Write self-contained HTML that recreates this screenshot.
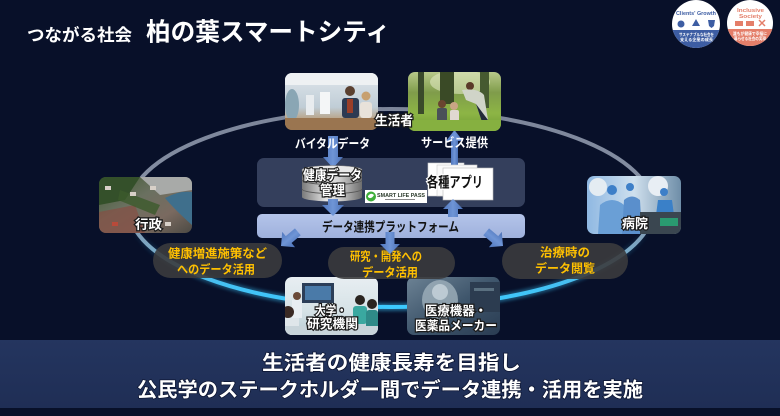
<!DOCTYPE html>
<html><head><meta charset="utf-8"><style>
html,body{margin:0;padding:0;background:#081029;}
svg{display:block;}
text{font-family:"Liberation Sans","Noto Sans CJK JP",sans-serif;font-weight:bold;}
</style></head><body>
<svg width="780" height="416" viewBox="0 0 780 416" xmlns="http://www.w3.org/2000/svg">
<defs>
  <linearGradient id="ring" x1="0" y1="109" x2="0" y2="307" gradientUnits="userSpaceOnUse">
    <stop offset="0" stop-color="#7c8599"/>
    <stop offset="0.55" stop-color="#8893a8"/>
    <stop offset="0.72" stop-color="#79aac8"/>
    <stop offset="0.88" stop-color="#45c0f2"/>
    <stop offset="1" stop-color="#3ccaff"/>
  </linearGradient>
  <linearGradient id="glowg" x1="0" y1="109" x2="0" y2="307" gradientUnits="userSpaceOnUse">
    <stop offset="0" stop-color="#3cc8ff" stop-opacity="0"/>
    <stop offset="0.6" stop-color="#3cc8ff" stop-opacity="0"/>
    <stop offset="1" stop-color="#3cc8ff" stop-opacity="1"/>
  </linearGradient>
  <filter id="glow" x="-10%" y="-10%" width="120%" height="120%"><feGaussianBlur stdDeviation="1.6"/></filter>
  <linearGradient id="banner" x1="0" y1="0" x2="0" y2="1">
    <stop offset="0" stop-color="#24355f"/><stop offset="1" stop-color="#1f2e55"/>
  </linearGradient>
  <linearGradient id="plat" x1="0" y1="0" x2="0" y2="1">
    <stop offset="0" stop-color="#b4c4ea"/><stop offset="1" stop-color="#9fb1dc"/>
  </linearGradient>
  <linearGradient id="cyl" x1="0" y1="0" x2="1" y2="0">
    <stop offset="0" stop-color="#7a7a7a"/><stop offset="0.4" stop-color="#e4e4e4"/><stop offset="0.6" stop-color="#d6d6d6"/><stop offset="1" stop-color="#6e6e6e"/>
  </linearGradient>
  <linearGradient id="arr" x1="0" y1="0" x2="1" y2="0">
    <stop offset="0" stop-color="#4f76bd"/><stop offset="0.5" stop-color="#6f95d6"/><stop offset="1" stop-color="#4a70b6"/>
  </linearGradient>
  <linearGradient id="p1" x1="0" y1="0" x2="0" y2="1">
    <stop offset="0" stop-color="#dfe6ec"/><stop offset="0.6" stop-color="#c0cdd6"/><stop offset="0.8" stop-color="#b9a58a"/><stop offset="1" stop-color="#8b6a48"/>
  </linearGradient>
  <linearGradient id="p2" x1="0" y1="0" x2="0" y2="1">
    <stop offset="0" stop-color="#b8c98a"/><stop offset="0.35" stop-color="#7f9c4a"/><stop offset="0.7" stop-color="#8db545"/><stop offset="1" stop-color="#6e9a33"/>
  </linearGradient>
  <linearGradient id="p3" x1="0" y1="0" x2="1" y2="1">
    <stop offset="0" stop-color="#3e5a30"/><stop offset="0.4" stop-color="#6a7060"/><stop offset="0.7" stop-color="#7a6a60"/><stop offset="1" stop-color="#4c4a44"/>
  </linearGradient>
  <linearGradient id="p4" x1="0" y1="0" x2="1" y2="0">
    <stop offset="0" stop-color="#8fb8e2"/><stop offset="0.5" stop-color="#cfe0ee"/><stop offset="1" stop-color="#6f8ea8"/>
  </linearGradient>
  <linearGradient id="p5" x1="0" y1="0" x2="0" y2="1">
    <stop offset="0" stop-color="#e8eef2"/><stop offset="0.6" stop-color="#d5e2e6"/><stop offset="1" stop-color="#b9ccd4"/>
  </linearGradient>
  <linearGradient id="p6" x1="0" y1="0" x2="1" y2="1">
    <stop offset="0" stop-color="#6c8294"/><stop offset="0.5" stop-color="#3f566c"/><stop offset="1" stop-color="#2a3c52"/>
  </linearGradient>
  <clipPath id="c1"><rect x="285" y="73" width="93" height="57" rx="7"/></clipPath>
  <clipPath id="c2"><rect x="408" y="72" width="93" height="59" rx="7"/></clipPath>
  <clipPath id="c3"><rect x="99" y="177" width="93" height="56" rx="7"/></clipPath>
  <clipPath id="c4"><rect x="587" y="176" width="94" height="58" rx="7"/></clipPath>
  <clipPath id="c5"><rect x="285" y="277" width="93" height="58" rx="7"/></clipPath>
  <clipPath id="c6"><rect x="407" y="277" width="93" height="58" rx="7"/></clipPath>
  <clipPath id="b1"><circle cx="696" cy="24" r="24"/></clipPath>
  <clipPath id="b2"><circle cx="750" cy="23" r="23"/></clipPath>
  <path id="ah" d="M0,0 L-10,-10 L-4.5,-10 L-4.5,-22 L4.5,-22 L4.5,-10 L10,-10 Z"/>
</defs>

<rect width="780" height="416" fill="#081029"/>

<!-- Title -->
<text x="27" y="41" font-size="17" fill="#fff" textLength="105" lengthAdjust="spacingAndGlyphs">つながる社会</text>
<text x="146" y="40.5" font-size="25" fill="#fff" textLength="244" lengthAdjust="spacingAndGlyphs">柏の葉スマートシティ</text>

<!-- Badges -->
<g clip-path="url(#b1)">
  <rect x="672" y="0" width="48" height="48" fill="#fff"/>
  <rect x="672" y="30" width="48" height="20" fill="#3d5da3"/>
  <text x="676" y="15" font-size="5.5" fill="#3d5da3" textLength="40" lengthAdjust="spacingAndGlyphs">Clients' Growth</text>
  <circle cx="681" cy="24" r="3.5" fill="#3d5da3"/>
  <path d="M696,19 L700,26 L692,26 Z" fill="#3d5da3"/>
  <path d="M708,20 L715,20 L714,26 L711.5,28 L709,26 Z" fill="#3d5da3"/>
  <text x="679" y="36" font-size="4.2" fill="#fff" textLength="35" lengthAdjust="spacingAndGlyphs">サステナブルな社会を</text>
  <text x="680" y="41" font-size="4.2" fill="#fff" textLength="33" lengthAdjust="spacingAndGlyphs">支える企業の成長</text>
</g>
<g clip-path="url(#b2)">
  <rect x="727" y="0" width="46" height="46" fill="#fff"/>
  <rect x="727" y="29" width="46" height="20" fill="#e47e69"/>
  <text x="737" y="12" font-size="5.5" fill="#e47e69" textLength="27" lengthAdjust="spacingAndGlyphs">Inclusive</text>
  <text x="739" y="18" font-size="5.5" fill="#e47e69" textLength="23" lengthAdjust="spacingAndGlyphs">Society</text>
  <rect x="735" y="21" width="8" height="5" fill="#e47e69"/>
  <rect x="746" y="21" width="8" height="5" fill="#e47e69"/>
  <path d="M759,20 L765,26 M765,20 L759,26" stroke="#e47e69" stroke-width="1.5"/>
  <text x="733" y="35" font-size="4.2" fill="#fff" textLength="34" lengthAdjust="spacingAndGlyphs">誰もが健康で幸福に</text>
  <text x="734" y="40" font-size="4.2" fill="#fff" textLength="32" lengthAdjust="spacingAndGlyphs">暮らせる社会の実現</text>
</g>

<!-- Ring -->
<ellipse cx="391" cy="208" rx="262" ry="99" fill="none" stroke="url(#glowg)" stroke-width="8" opacity="0.45" filter="url(#glow)"/>
<ellipse cx="391" cy="208" rx="262" ry="99" fill="none" stroke="url(#ring)" stroke-width="4"/>

<!-- Panel -->
<rect x="257" y="158" width="268" height="49" rx="7" fill="#343f5c"/>

<!-- arrow: バイタル -> cylinder -->
<polygon points="328,136 338,136 338,157 343,157 333,168 323,157 328,157" fill="url(#arr)"/>

<!-- Cylinder -->
<g>
  <rect x="302" y="170" width="60" height="27" fill="url(#cyl)"/>
  <ellipse cx="332" cy="197" rx="30" ry="4.5" fill="url(#cyl)"/>
  <path d="M302,180 A30,4.5 0 0 0 362,180" fill="none" stroke="#555" stroke-width="0.8"/>
  <path d="M302,189 A30,4.5 0 0 0 362,189" fill="none" stroke="#555" stroke-width="0.8"/>
  <ellipse cx="332" cy="170" rx="30" ry="4.5" fill="#e8e8e8" stroke="#777" stroke-width="0.6"/>
</g>
<text x="303" y="180" font-size="13.5" fill="#fff" stroke="#222" stroke-width="2.5" paint-order="stroke" textLength="59" lengthAdjust="spacingAndGlyphs">健康データ</text>
<text x="320" y="195" font-size="13.5" fill="#fff" stroke="#222" stroke-width="2.5" paint-order="stroke" textLength="25" lengthAdjust="spacingAndGlyphs">管理</text>

<!-- Smart life pass -->
<rect x="365" y="190" width="62" height="13" fill="#fff"/>
<circle cx="371" cy="196.5" r="5" fill="#3fae3a"/>
<path d="M368,196 Q371,192 374,195 Q371,200 368,197" fill="#fff"/>
<text x="377" y="197" font-size="5" fill="#2a3a2a" textLength="48" lengthAdjust="spacingAndGlyphs">SMART LIFE PASS</text>
<rect x="385" y="199" width="30" height="1" fill="#888"/>

<!-- Apps -->
<rect x="428" y="163" width="36" height="33" fill="#fff" stroke="#ccc" stroke-width="0.6"/>
<polygon points="451,140 458,140 458,168 451,168" fill="url(#arr)"/>
<polygon points="446,141 454.5,130 463,141" fill="url(#arr)"/>
<rect x="437" y="165" width="40" height="31" fill="#fafafa" stroke="#ccc" stroke-width="0.6"/>
<rect x="443" y="168" width="50" height="32" fill="#fff" stroke="#bbb" stroke-width="0.6"/>
<text x="427" y="187.5" font-size="14.5" fill="#111" stroke="#fff" stroke-width="2.5" paint-order="stroke" textLength="56" lengthAdjust="spacingAndGlyphs">各種アプリ</text>

<!-- Platform -->
<rect x="257" y="214" width="268" height="24" rx="5" fill="url(#plat)"/>
<text x="322" y="231.5" font-size="13" fill="#111" textLength="137" lengthAdjust="spacingAndGlyphs">データ連携プラットフォーム</text>

<!-- arrows cyl->platform, platform->apps -->
<polygon points="328,199 338,199 338,205 344,205 333,216 322,205 328,205" fill="url(#arr)"/>
<polygon points="448,217 458,217 458,209 463,209 453,199 443,209 448,209" fill="url(#arr)"/>

<!-- Photos -->
<g clip-path="url(#c1)">
  <rect x="285" y="73" width="93" height="57" fill="url(#p1)"/>
  <rect x="285" y="73" width="93" height="12" fill="#eef1f3"/>
  <ellipse cx="292" cy="105" rx="7" ry="16" fill="#8aa6b4"/>
  <rect x="306" y="95" width="8" height="20" fill="#e8ecef"/>
  <rect x="320" y="92" width="10" height="22" fill="#f4f6f7"/>
  <circle cx="350" cy="91" r="5" fill="#5a4030"/>
  <rect x="342" y="98" width="17" height="20" rx="3" fill="#2d3a52"/>
  <rect x="347" y="99" width="6" height="14" fill="#9a3e28"/>
  <circle cx="366" cy="96" r="4.5" fill="#c7a070"/>
  <rect x="360" y="102" width="12" height="16" rx="3" fill="#e8e2da"/>
  <rect x="285" y="118" width="93" height="12" fill="#9a7550"/>
</g>
<g clip-path="url(#c2)">
  <rect x="408" y="72" width="93" height="59" fill="url(#p2)"/>
  <ellipse cx="460" cy="82" rx="30" ry="12" fill="#dfe8c0" opacity="0.6"/>
  <rect x="418" y="72" width="6" height="42" fill="#3a4a2a"/>
  <rect x="480" y="72" width="9" height="36" fill="#465a30"/>
  <rect x="440" y="72" width="14" height="32" fill="#3a4a26"/>
  <circle cx="470" cy="86" r="4" fill="#5a3a28"/>
  <path d="M462,90 Q478,88 484,95 L488,120 L482,122 L476,104 L466,100 Z" fill="#d0d4c8"/>
  <path d="M476,104 L488,120 L482,122 Z" fill="#222a38"/>
  <circle cx="442" cy="104" r="4" fill="#6a4530"/>
  <rect x="437" y="108" width="10" height="14" rx="2" fill="#4a5058"/>
  <circle cx="454" cy="106" r="4" fill="#c9a585"/>
  <rect x="450" y="110" width="9" height="12" rx="2" fill="#e0d8d0"/>
  <rect x="408" y="120" width="93" height="11" fill="#86b040"/>
</g>
<g clip-path="url(#c3)">
  <rect x="99" y="177" width="93" height="56" fill="url(#p3)"/>
  <path d="M99,177 L140,177 L125,200 L99,205 Z" fill="#34502a"/>
  <path d="M140,177 L192,177 L192,190 L160,195 Z" fill="#a8aaa8"/>
  <path d="M165,198 Q180,190 192,192 L192,225 Q175,210 165,198 Z" fill="#3f6f8c"/>
  <path d="M99,212 L135,205 L145,233 L99,233 Z" fill="#8a4a40" opacity="0.6"/>
  <path d="M120,190 L160,205 L155,215 L118,200 Z" fill="#3c5a2c" opacity="0.8"/>
  <rect x="105" y="186" width="6" height="4" fill="#d8d0c8"/>
  <rect x="130" y="192" width="6" height="4" fill="#d8d0c8"/>
  <rect x="150" y="186" width="6" height="4" fill="#d8d0c8"/>
  <rect x="112" y="222" width="6" height="4" fill="#b84a3a"/>
  <rect x="165" y="222" width="6" height="4" fill="#d8d0c8"/>
</g>
<g clip-path="url(#c4)">
  <rect x="587" y="176" width="94" height="58" fill="url(#p4)"/>
  <circle cx="598" cy="187" r="9" fill="#e4ecf2"/>
  <circle cx="658" cy="186" r="10" fill="#e8eef4"/>
  <circle cx="612" cy="190" r="5" fill="#3d7fc8"/>
  <path d="M598,234 L600,205 Q612,195 624,205 L632,234 Z" fill="#6a9fd6"/>
  <circle cx="630" cy="187" r="4" fill="#3d7fc8"/>
  <path d="M622,234 L624,200 Q632,193 640,200 L642,234 Z" fill="#5a8fcc"/>
  <circle cx="664" cy="192" r="4" fill="#3d7fc8"/>
  <path d="M656,215 L658,200 L672,200 L674,215 Z" fill="#3a80c8"/>
  <rect x="640" y="212" width="41" height="22" fill="#3a4650"/>
  <rect x="660" y="218" width="18" height="8" fill="#2a9a70"/>
</g>
<g clip-path="url(#c5)">
  <rect x="285" y="277" width="93" height="58" fill="url(#p5)"/>
  <rect x="302" y="283" width="32" height="20" fill="#2c3e58"/>
  <rect x="305" y="286" width="26" height="14" fill="#4a7aa8"/>
  <circle cx="297" cy="296" r="4" fill="#6a4a38"/>
  <rect x="292" y="300" width="10" height="18" fill="#e8eef2"/>
  <circle cx="288" cy="312" r="6" fill="#3a2a24"/>
  <rect x="285" y="318" width="14" height="17" fill="#dfe6ea"/>
  <circle cx="360" cy="300" r="5" fill="#2a2420"/>
  <rect x="353" y="306" width="14" height="18" rx="3" fill="#3aa8a0"/>
  <circle cx="372" cy="304" r="5" fill="#2a2420"/>
  <rect x="366" y="310" width="12" height="20" rx="3" fill="#2f8a88"/>
  <rect x="285" y="326" width="93" height="9" fill="#c8d4da"/>
</g>
<g clip-path="url(#c6)">
  <rect x="407" y="277" width="93" height="58" fill="url(#p6)"/>
  <ellipse cx="440" cy="300" rx="18" ry="20" fill="#9fb0bc" opacity="0.8"/>
  <ellipse cx="440" cy="292" rx="8" ry="8" fill="#c8d4dc" opacity="0.8"/>
  <rect x="470" y="282" width="30" height="30" fill="#2c3c50"/>
  <rect x="474" y="288" width="20" height="3" fill="#5a7080"/>
</g>

<!-- Photo labels -->
<g font-size="13" fill="#fff" stroke="#1a1a1a" stroke-width="2.5" paint-order="stroke">
  <text x="375" y="125" textLength="38" lengthAdjust="spacingAndGlyphs">生活者</text>
  <text x="135" y="229" textLength="27" lengthAdjust="spacingAndGlyphs">行政</text>
  <text x="622" y="228" textLength="26" lengthAdjust="spacingAndGlyphs">病院</text>
  <text x="315" y="315" font-size="12.5" textLength="32" lengthAdjust="spacingAndGlyphs">大学・</text>
  <text x="307" y="328" font-size="12.5" textLength="51" lengthAdjust="spacingAndGlyphs">研究機関</text>
  <text x="425" y="315" font-size="12.5" textLength="62" lengthAdjust="spacingAndGlyphs">医療機器・</text>
  <text x="415" y="330" font-size="12.5" textLength="82" lengthAdjust="spacingAndGlyphs">医薬品メーカー</text>
</g>
<text x="295" y="148" font-size="12.5" fill="#fff" textLength="75" lengthAdjust="spacingAndGlyphs">バイタルデータ</text>
<text x="421" y="147" font-size="12.5" fill="#fff" textLength="67" lengthAdjust="spacingAndGlyphs">サービス提供</text>

<!-- Bubbles -->
<rect x="153" y="243" width="129" height="35" rx="17.5" fill="#3b3b3d" opacity="0.9"/>
<rect x="328" y="247" width="127" height="32" rx="16" fill="#3b3b3d" opacity="0.9"/>
<rect x="502" y="243" width="126" height="36" rx="18" fill="#3b3b3d" opacity="0.9"/>
<g font-size="12" fill="#ffc000">
  <text x="168" y="257.5" textLength="99" lengthAdjust="spacingAndGlyphs">健康増進施策など</text>
  <text x="177" y="273.5" textLength="78" lengthAdjust="spacingAndGlyphs">へのデータ活用</text>
  <text x="350" y="260.5" textLength="72" lengthAdjust="spacingAndGlyphs">研究・開発への</text>
  <text x="362" y="276.5" textLength="56" lengthAdjust="spacingAndGlyphs">データ活用</text>
  <text x="540" y="256.5" textLength="50" lengthAdjust="spacingAndGlyphs">治療時の</text>
  <text x="535" y="272.5" textLength="60" lengthAdjust="spacingAndGlyphs">データ閲覧</text>
</g>

<!-- Platform out arrows -->
<use href="#ah" transform="translate(281,246) rotate(50)" fill="url(#arr)"/>
<use href="#ah" transform="translate(390,254)" fill="url(#arr)"/>
<use href="#ah" transform="translate(503,246) rotate(-50)" fill="url(#arr)"/>

<!-- Bottom banner -->
<rect x="0" y="340" width="780" height="68" fill="url(#banner)"/>
<g font-size="20" fill="#fff" stroke="#0c1430" stroke-width="1.5" paint-order="stroke">
  <text x="262" y="369.5" textLength="259" lengthAdjust="spacingAndGlyphs">生活者の健康長寿を目指し</text>
  <text x="137" y="396.5" textLength="506" lengthAdjust="spacingAndGlyphs">公民学のステークホルダー間でデータ連携・活用を実施</text>
</g>
</svg>
</body></html>
